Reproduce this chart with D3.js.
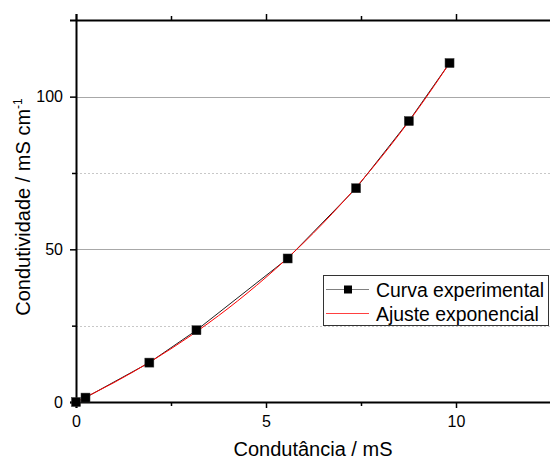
<!DOCTYPE html>
<html>
<head>
<meta charset="utf-8">
<script src="https://cdn.jsdelivr.net/npm/d3@7"></script>
<style>
  html, body { margin: 0; padding: 0; background: #fff; }
  svg { display: block; font-family: "Liberation Sans", Arial, sans-serif; }
</style>
</head>
<body>
<svg id="chart" width="550" height="459"></svg>
<script>
// Measured conductance (mS) and conductivity (mS cm-1)
const condutancia = [0, 0.25, 1.93, 3.17, 5.57, 7.37, 8.76, 9.83];
const condutividade = [0, 1.44, 12.9, 23.5, 47.0, 70.0, 92.0, 111.0];

// Exponential fit evaluated along the conductance range
const ajusteX = [0, 1, 2, 3, 4, 5, 6, 7, 8, 9, 9.83];
const ajusteY = [0, 6.36, 13.52, 21.57, 30.63, 40.83, 52.27, 65.16, 79.67, 95.98, 111.0];

const xMajorTicks = [0, 5, 10];
const xMinorTicks = [2.5, 7.5];
const yMajorTicks = [0, 50, 100];
const yMinorTicks = [25, 75];

const legendLabels = ["Curva experimental", "Ajuste exponencial"];

const svg = d3.select("#chart");
const plotLeft = 76, plotRight = 551, plotTop = 20, plotBottom = 402;

const x = d3.scaleLinear().domain([0, 12.5]).range([plotLeft, plotRight]);
const y = d3.scaleLinear().domain([0, 125.1]).range([plotBottom, plotTop]);

// Grid lines: solid at major values, dotted at minor values
const grid = svg.append("g");
grid.selectAll("line.major").data(yMajorTicks.filter(d => d > 0)).join("line")
  .attr("x1", plotLeft).attr("x2", 550)
  .attr("y1", d => Math.round(y(d)) + 0.5).attr("y2", d => Math.round(y(d)) + 0.5)
  .attr("stroke", "#a8a8a8").attr("stroke-width", 1);
grid.selectAll("line.minor").data(yMinorTicks).join("line")
  .attr("x1", plotLeft).attr("x2", 550)
  .attr("y1", d => Math.round(y(d)) + 0.5).attr("y2", d => Math.round(y(d)) + 0.5)
  .attr("stroke", "#c8c8c8").attr("stroke-width", 1).attr("stroke-dasharray", "2,2");

// Axes
function styleAxis(g) {
  g.select(".domain").attr("stroke", "#000").attr("stroke-width", 2);
  g.selectAll(".tick line").attr("stroke", "#000").attr("stroke-width", 1.5);
  g.selectAll(".tick text").attr("fill", "#000").attr("font-size", 16)
    .attr("font-family", "'Liberation Sans', Arial, sans-serif");
}
function minorTicks(g) {
  g.select(".domain").remove();
  g.selectAll("line").attr("stroke", "#000").attr("stroke-width", 1.5);
}

const xAxis = svg.append("g").attr("transform", `translate(0,${plotBottom})`)
  .call(d3.axisBottom(x).tickValues(xMajorTicks).tickSize(6).tickPadding(8).tickSizeOuter(0));
styleAxis(xAxis);
svg.append("g").attr("transform", `translate(0,${plotBottom})`)
  .call(d3.axisBottom(x).tickValues(xMinorTicks).tickSize(4).tickFormat("").tickSizeOuter(0))
  .call(minorTicks);

const xTop = svg.append("g").attr("transform", `translate(0,${plotTop})`)
  .call(d3.axisTop(x).tickValues(xMajorTicks).tickSize(6).tickFormat("").tickSizeOuter(0));
styleAxis(xTop);
svg.append("g").attr("transform", `translate(0,${plotTop})`)
  .call(d3.axisTop(x).tickValues(xMinorTicks).tickSize(4).tickFormat("").tickSizeOuter(0))
  .call(minorTicks);

const yAxis = svg.append("g").attr("transform", `translate(${plotLeft},0)`)
  .call(d3.axisLeft(y).tickValues(yMajorTicks).tickSize(6).tickPadding(7).tickSizeOuter(0));
styleAxis(yAxis);
yAxis.select(".domain").attr("d", `M0.5,${plotBottom + 6}V${plotTop - 6}`);
svg.append("g").attr("transform", `translate(${plotLeft},0)`)
  .call(d3.axisLeft(y).tickValues(yMinorTicks).tickSize(4).tickFormat("").tickSizeOuter(0))
  .call(minorTicks);
xTop.select(".domain").attr("d", `M${plotLeft - 6},0.5H550`);
xAxis.select(".domain").attr("d", `M${plotLeft - 6},0.5H550`);

// Axis titles
svg.append("text").attr("x", 313).attr("y", 456).attr("text-anchor", "middle")
  .attr("font-size", 20).attr("fill", "#000").text("Condutância / mS");

const yt = svg.append("text").attr("transform", "translate(30,207) rotate(-90)")
  .attr("text-anchor", "middle").attr("font-size", 20).attr("fill", "#000");
yt.append("tspan").text("Condutividade / mS cm");
yt.append("tspan").attr("dy", -8).attr("font-size", 12).text("-1");

// Experimental curve: straight segments with square markers
const expData = condutancia.map((c, i) => [c, condutividade[i]]);
svg.append("path").datum(expData)
  .attr("d", d3.line().x(d => x(d[0])).y(d => y(d[1])))
  .attr("fill", "none").attr("stroke", "#202020").attr("stroke-width", 1);

// Exponential fit curve
const fitData = ajusteX.map((c, i) => [c, ajusteY[i]]);
svg.append("path").datum(fitData)
  .attr("d", d3.line().curve(d3.curveNatural).x(d => x(d[0])).y(d => y(d[1])))
  .attr("fill", "none").attr("stroke", "#ff0000").attr("stroke-width", 1);

svg.append("g").selectAll("rect").data(expData).join("rect")
  .attr("x", d => x(d[0]) - 4.5).attr("y", d => y(d[1]) - 4.5)
  .attr("width", 9).attr("height", 9)
  .attr("fill", "#000").attr("stroke", "#333").attr("stroke-width", 0.5);

// Legend
const lg = svg.append("g");
lg.append("rect").attr("x", 323.5).attr("y", 275.5).attr("width", 225).attr("height", 50)
  .attr("fill", "#fff").attr("stroke", "#333").attr("stroke-width", 1);
const rows = [289.5, 313.5];
lg.append("line").attr("x1", 326).attr("x2", 369).attr("y1", rows[0]).attr("y2", rows[0])
  .attr("stroke", "#808080").attr("stroke-width", 1.2);
lg.append("rect").attr("x", 344).attr("y", rows[0] - 4).attr("width", 8).attr("height", 8).attr("fill", "#000");
lg.append("line").attr("x1", 326).attr("x2", 369).attr("y1", rows[1]).attr("y2", rows[1])
  .attr("stroke", "#ff4040").attr("stroke-width", 1);
lg.selectAll("text").data(legendLabels).join("text")
  .attr("x", 376).attr("y", (d, i) => rows[i] + 7)
  .attr("font-size", 19.4).attr("fill", "#000").text(d => d);
</script>
</body>
</html>
